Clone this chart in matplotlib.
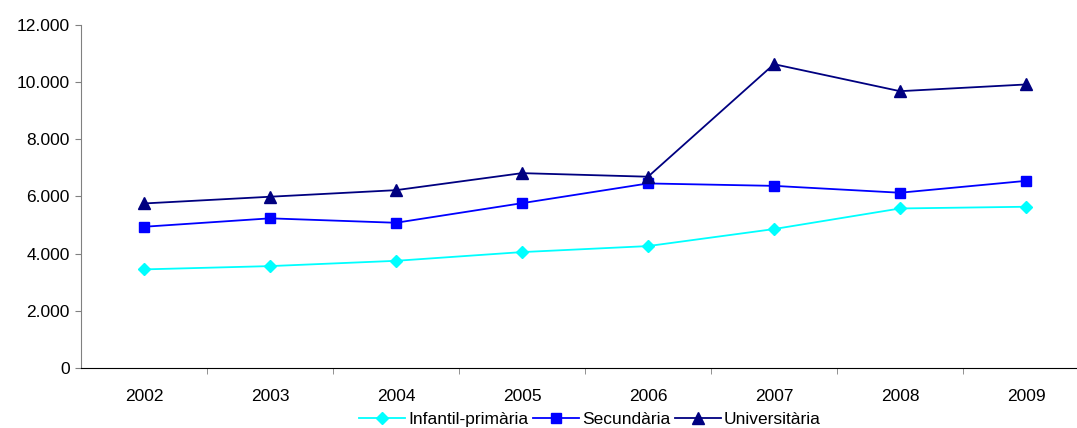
import numpy as np
from matplotlib import pyplot as plt
from matplotlib.ticker import FuncFormatter

years = ['2002', '2003', '2004', '2005', '2006', '2007', '2008', '2009']
infantil = [3450, 3565, 3750, 4055, 4265, 4860, 5580, 5640]
secundaria = [4940, 5235, 5080, 5765, 6455, 6370, 6130, 6545]
universitaria = [5755, 5990, 6220, 6815, 6690, 10625, 9680, 9915]

plt.rcParams['font.family'] = ['Liberation Sans', 'DejaVu Sans']

fig = plt.figure(figsize=(10.77, 4.28), dpi=100)
ax = fig.add_axes([81 / 1077, 0.140, (1077 - 81) / 1077, 0.802])

x = np.arange(len(years))
ax.plot(x, infantil, color='#00FFFF', marker='D', markersize=6.5, lw=1.3,
        label='Infantil-primària')
ax.plot(x, secundaria, color='#0000FF', marker='s', markersize=7, lw=1.3,
        label='Secundària')
ax.plot(x, universitaria, color='#000080', marker='^', markersize=8, lw=1.3,
        label='Universitària')

ax.set_ylim(0, 12000)
ax.set_yticks(np.arange(0, 12001, 2000))
ax.yaxis.set_major_formatter(FuncFormatter(lambda v, p: f'{int(v):,}'.replace(',', '.')))
ax.set_xlim(-0.5, -0.5 + (1077 - 81) / 126)
ax.set_xticks(x)
ax.set_xticklabels(years)
ax.set_xticks(np.arange(0.5, 7.5, 1), minor=True)
ax.tick_params(axis='x', which='major', length=0, pad=15, labelsize=12.5)
ax.tick_params(axis='x', which='minor', length=4, color='#808080', direction='out')
ax.tick_params(axis='y', length=4, color='#808080', labelsize=12.5, pad=4)

for s in ['top', 'right']:
    ax.spines[s].set_visible(False)
ax.spines['left'].set_color('#808080')
ax.spines['bottom'].set_color('black')

fig.legend(loc='center', bbox_to_anchor=(0.548, 0.02), ncol=3, frameon=False,
           fontsize=12.5, handlelength=2.6, columnspacing=0.3, handletextpad=0.2,
           borderaxespad=0)

fig.savefig('out.png', dpi=100)
